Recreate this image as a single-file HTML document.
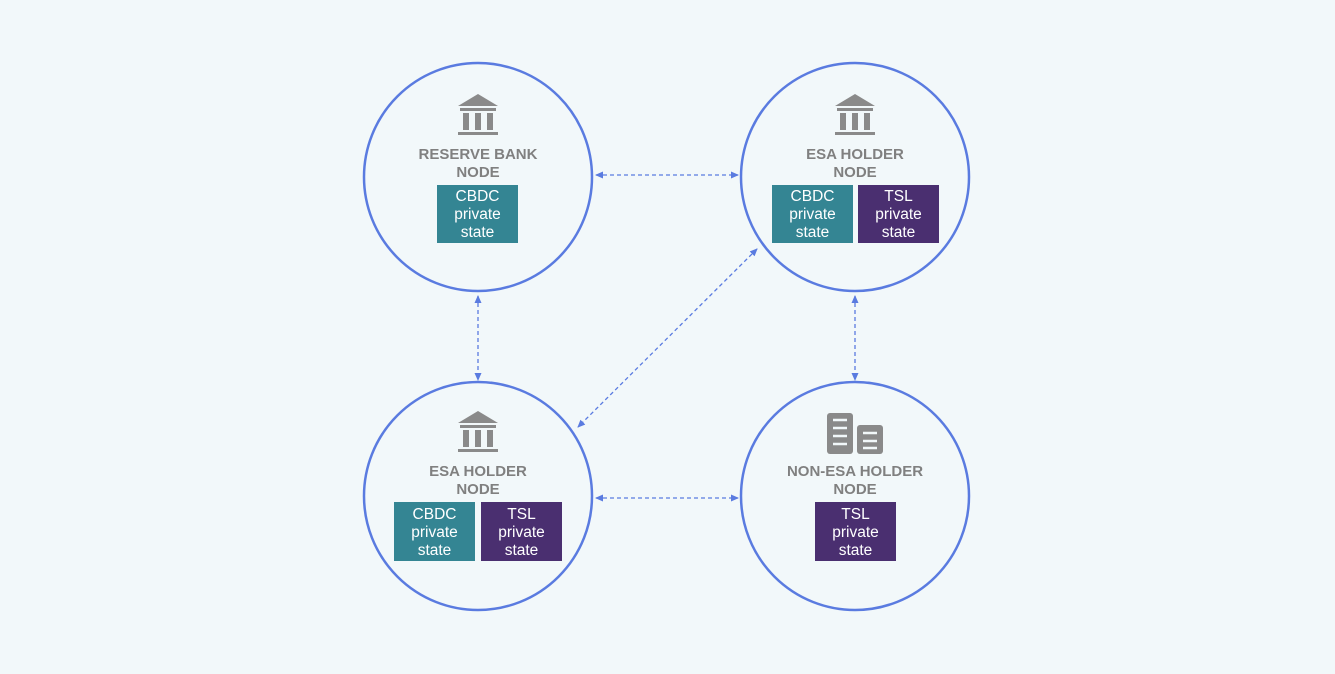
<!DOCTYPE html>
<html><head><meta charset="utf-8"><style>
body{margin:0;background:#f2f8fa;}
svg{display:block}
text{font-family:"Liberation Sans",sans-serif;}
</style></head><body>
<svg width="1335" height="674" viewBox="0 0 1335 674">
<rect width="1335" height="674" fill="#f2f8fa"/>
<defs>
<marker id="a" markerWidth="8" markerHeight="8" refX="7" refY="4" orient="auto-start-reverse" markerUnits="userSpaceOnUse">
<path d="M0,0.5 L8,4 L0,7.5z" fill="#5a7be0"/></marker>
<g id="bank" fill="#8a8a8a">
<path d="M-20,-2 L0,-14 L20,-2z"/>
<rect x="-18" y="0" width="36" height="3"/>
<rect x="-15" y="5" width="6" height="17"/>
<rect x="-3" y="5" width="6" height="17"/>
<rect x="9" y="5" width="6" height="17"/>
<rect x="-20" y="24" width="40" height="3"/>
</g>
</defs>
<g fill="none" stroke="#5a7be0" stroke-width="2.5">
<circle cx="478" cy="177" r="114"/>
<circle cx="855" cy="177" r="114"/>
<circle cx="478" cy="496" r="114"/>
<circle cx="855" cy="496" r="114"/>
</g>
<g stroke="#5a7be0" stroke-width="1.3" stroke-dasharray="4,3" marker-start="url(#a)" marker-end="url(#a)">
<line x1="596" y1="175" x2="738" y2="175"/>
<line x1="596" y1="498" x2="738" y2="498"/>
<line x1="478" y1="296" x2="478" y2="380"/>
<line x1="855" y1="296" x2="855" y2="380"/>
<line x1="757" y1="249" x2="578" y2="427"/>
</g>
<use href="#bank" x="478" y="108"/>
<use href="#bank" x="855" y="108"/>
<use href="#bank" x="478" y="425"/>
<g fill="#8a8a8a">
<rect x="827" y="413" width="26" height="41" rx="3"/>
<rect x="857" y="425" width="26" height="29" rx="3"/>
</g>
<g stroke="#f2f8fa" stroke-width="2.5">
<line x1="833" y1="420" x2="847" y2="420"/><line x1="833" y1="428" x2="847" y2="428"/><line x1="833" y1="436" x2="847" y2="436"/><line x1="833" y1="444" x2="847" y2="444"/>
<line x1="863" y1="433" x2="877" y2="433"/><line x1="863" y1="441" x2="877" y2="441"/><line x1="863" y1="448" x2="877" y2="448"/>
</g>
<g fill="#808080" font-size="15" font-weight="bold" text-anchor="middle">
<text x="478" y="159">RESERVE BANK</text><text x="478" y="177">NODE</text>
<text x="855" y="159">ESA HOLDER</text><text x="855" y="177">NODE</text>
<text x="478" y="476">ESA HOLDER</text><text x="478" y="494">NODE</text>
<text x="855" y="476">NON-ESA HOLDER</text><text x="855" y="494">NODE</text>
</g>
<rect x="437" y="185" width="81" height="58" fill="#348593"/>
<rect x="772" y="185" width="81" height="58" fill="#348593"/>
<rect x="858" y="185" width="81" height="58" fill="#4a2f70"/>
<rect x="394" y="502" width="81" height="59" fill="#348593"/>
<rect x="481" y="502" width="81" height="59" fill="#4a2f70"/>
<rect x="815" y="502" width="81" height="59" fill="#4a2f70"/>
<g fill="#fff" font-size="15.5" text-anchor="middle">
<text x="477.5" y="201">CBDC</text><text x="477.5" y="219">private</text><text x="477.5" y="237">state</text>
<text x="812.5" y="201">CBDC</text><text x="812.5" y="219">private</text><text x="812.5" y="237">state</text>
<text x="898.5" y="201">TSL</text><text x="898.5" y="219">private</text><text x="898.5" y="237">state</text>
<text x="434.5" y="519">CBDC</text><text x="434.5" y="537">private</text><text x="434.5" y="555">state</text>
<text x="521.5" y="519">TSL</text><text x="521.5" y="537">private</text><text x="521.5" y="555">state</text>
<text x="855.5" y="519">TSL</text><text x="855.5" y="537">private</text><text x="855.5" y="555">state</text>
</g>
</svg>
</body></html>
